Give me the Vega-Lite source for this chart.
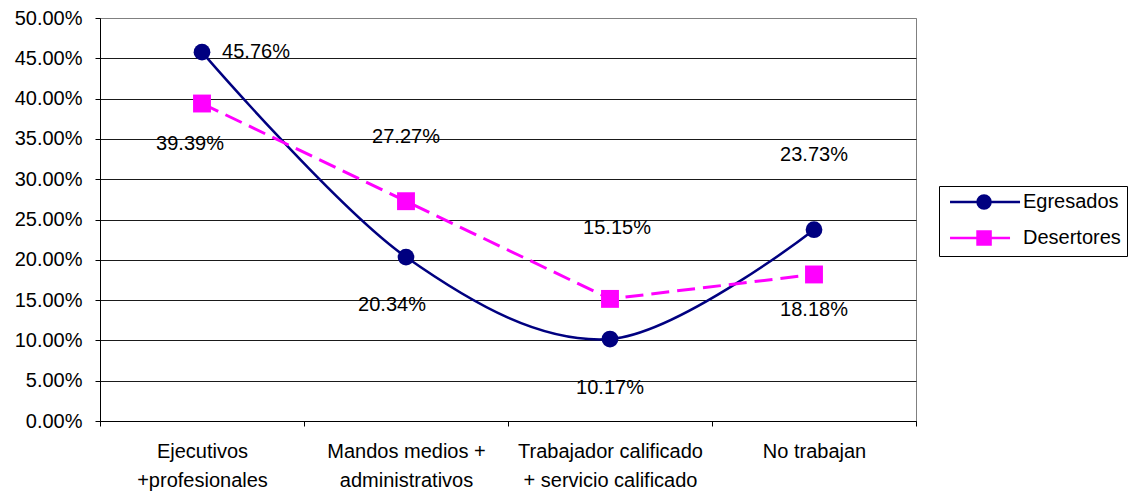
{
  "$schema": "https://vega.github.io/schema/vega-lite/v6.json",
  "width": 816,
  "height": 403,
  "autosize": {"type": "none"},
  "padding": {"left": 100, "top": 18, "right": 220, "bottom": 74},
  "background": "white",
  "config": {
    "font": "Liberation Sans",
    "view": {"stroke": "#808080", "strokeWidth": 1},
    "legend": {
      "orient": "none",
      "legendX": 839,
      "legendY": 168,
      "strokeColor": "black",
      "fillColor": "white",
      "padding": 6,
      "labelFontSize": 20,
      "labelColor": "black",
      "labelOffset": 58,
      "rowPadding": 12,
      "symbolSize": 196,
      "symbolStrokeWidth": 2.5,
      "symbolOpacity": 1,
      "title": null
    }
  },
  "data": {
    "values": [
      {"cat": "Ejecutivos\n+profesionales", "series": "Egresados", "value": 0.4576},
      {"cat": "Mandos medios +\nadministrativos", "series": "Egresados", "value": 0.2034},
      {"cat": "Trabajador calificado\n+ servicio calificado", "series": "Egresados", "value": 0.1017},
      {"cat": "No trabajan", "series": "Egresados", "value": 0.2373},
      {"cat": "Ejecutivos\n+profesionales", "series": "Desertores", "value": 0.3939},
      {"cat": "Mandos medios +\nadministrativos", "series": "Desertores", "value": 0.2727},
      {"cat": "Trabajador calificado\n+ servicio calificado", "series": "Desertores", "value": 0.1515},
      {"cat": "No trabajan", "series": "Desertores", "value": 0.1818}
    ]
  },
  "encoding": {
    "x": {
      "field": "cat",
      "type": "nominal",
      "scale": {
        "type": "band",
        "paddingInner": 0,
        "paddingOuter": 0,
        "domain": ["Ejecutivos\n+profesionales", "Mandos medios +\nadministrativos", "Trabajador calificado\n+ servicio calificado", "No trabajan"]
      },
      "axis": {
        "title": null,
        "labelExpr": "isValid(datum.value) ? split(datum.value, '\\n') : ''",
        "labelAngle": 0,
        "labelFontSize": 20,
        "labelColor": "black",
        "labelLineHeight": 29,
        "labelPadding": 15,
        "labelLimit": 400,
        "tickBand": "extent",
        "tickSize": 5,
        "tickColor": "black",
        "domainColor": "black",
        "grid": false
      }
    },
    "y": {
      "field": "value",
      "type": "quantitative",
      "scale": {"domain": [0, 0.5], "nice": false},
      "axis": {
        "title": null,
        "format": ".2%",
        "values": [0, 0.05, 0.1, 0.15, 0.2, 0.25, 0.3, 0.35, 0.4, 0.45, 0.5],
        "labelFontSize": 20,
        "labelColor": "black",
        "labelPadding": 13,
        "tickSize": 5,
        "tickColor": "black",
        "domainColor": "black",
        "grid": true,
        "gridColor": {"condition": {"test": "datum.value >= 0.5", "value": "#808080"}, "value": "#1a1a1a"},
        "gridOpacity": 1
      }
    }
  },
  "layer": [
    {
      "transform": [{"filter": "datum.series == 'Egresados'"}],
      "mark": {"type": "line", "color": "#000080", "strokeWidth": 2.5, "interpolate": "cardinal"}
    },
    {
      "transform": [{"filter": "datum.series == 'Desertores'"}],
      "mark": {"type": "line", "color": "#FF00FF", "strokeWidth": 3, "strokeDash": [18, 8]}
    },
    {
      "transform": [{"filter": "datum.series == 'Egresados'"}],
      "mark": {"type": "point", "shape": "circle", "filled": true, "opacity": 1, "color": "#000080", "size": 280}
    },
    {
      "transform": [{"filter": "datum.series == 'Desertores'"}],
      "mark": {"type": "point", "shape": "square", "filled": true, "opacity": 1, "color": "#FF00FF", "size": 320}
    },
    {
      "mark": {"type": "point", "opacity": 0},
      "encoding": {
        "shape": {
          "field": "series",
          "type": "nominal",
          "scale": {
            "domain": ["Egresados", "Desertores"],
            "range": [
              "M-0.71,0H9.29M4.15,-0.93A0.93,0.93 0 1,1 4.15,0.93A0.93,0.93 0 1,1 4.15,-0.93Z",
              "M-0.71,0H7.86M3.22,-0.93H5.08V0.93H3.22Z"
            ]
          }
        },
        "fill": {
          "field": "series",
          "type": "nominal",
          "scale": {"domain": ["Egresados", "Desertores"], "range": ["#000080", "#FF00FF"]}
        },
        "stroke": {
          "field": "series",
          "type": "nominal",
          "scale": {"domain": ["Egresados", "Desertores"], "range": ["#000080", "#FF00FF"]}
        }
      }
    },
    {
      "transform": [{"filter": "datum.series == 'Egresados' && datum.value == 0.4576"}],
      "mark": {"type": "text", "fontSize": 20, "color": "black", "dx": 54, "dy": 0},
      "encoding": {"text": {"field": "value", "type": "quantitative", "format": ".2%"}}
    },
    {
      "transform": [{"filter": "datum.series == 'Desertores' && datum.value == 0.3939"}],
      "mark": {"type": "text", "fontSize": 20, "color": "black", "dx": -12, "dy": 40},
      "encoding": {"text": {"field": "value", "type": "quantitative", "format": ".2%"}}
    },
    {
      "transform": [{"filter": "datum.series == 'Egresados' && datum.value == 0.2034"}],
      "mark": {"type": "text", "fontSize": 20, "color": "black", "dx": -14, "dy": 48},
      "encoding": {"text": {"field": "value", "type": "quantitative", "format": ".2%"}}
    },
    {
      "transform": [{"filter": "datum.series == 'Desertores' && datum.value == 0.2727"}],
      "mark": {"type": "text", "fontSize": 20, "color": "black", "dx": 0, "dy": -64},
      "encoding": {"text": {"field": "value", "type": "quantitative", "format": ".2%"}}
    },
    {
      "transform": [{"filter": "datum.series == 'Egresados' && datum.value == 0.1017"}],
      "mark": {"type": "text", "fontSize": 20, "color": "black", "dx": 0, "dy": 49},
      "encoding": {"text": {"field": "value", "type": "quantitative", "format": ".2%"}}
    },
    {
      "transform": [{"filter": "datum.series == 'Desertores' && datum.value == 0.1515"}],
      "mark": {"type": "text", "fontSize": 20, "color": "black", "dx": 7, "dy": -71},
      "encoding": {"text": {"field": "value", "type": "quantitative", "format": ".2%"}}
    },
    {
      "transform": [{"filter": "datum.series == 'Egresados' && datum.value == 0.2373"}],
      "mark": {"type": "text", "fontSize": 20, "color": "black", "dx": 0, "dy": -75},
      "encoding": {"text": {"field": "value", "type": "quantitative", "format": ".2%"}}
    },
    {
      "transform": [{"filter": "datum.series == 'Desertores' && datum.value == 0.1818"}],
      "mark": {"type": "text", "fontSize": 20, "color": "black", "dx": 0, "dy": 36},
      "encoding": {"text": {"field": "value", "type": "quantitative", "format": ".2%"}}
    }
  ]
}
